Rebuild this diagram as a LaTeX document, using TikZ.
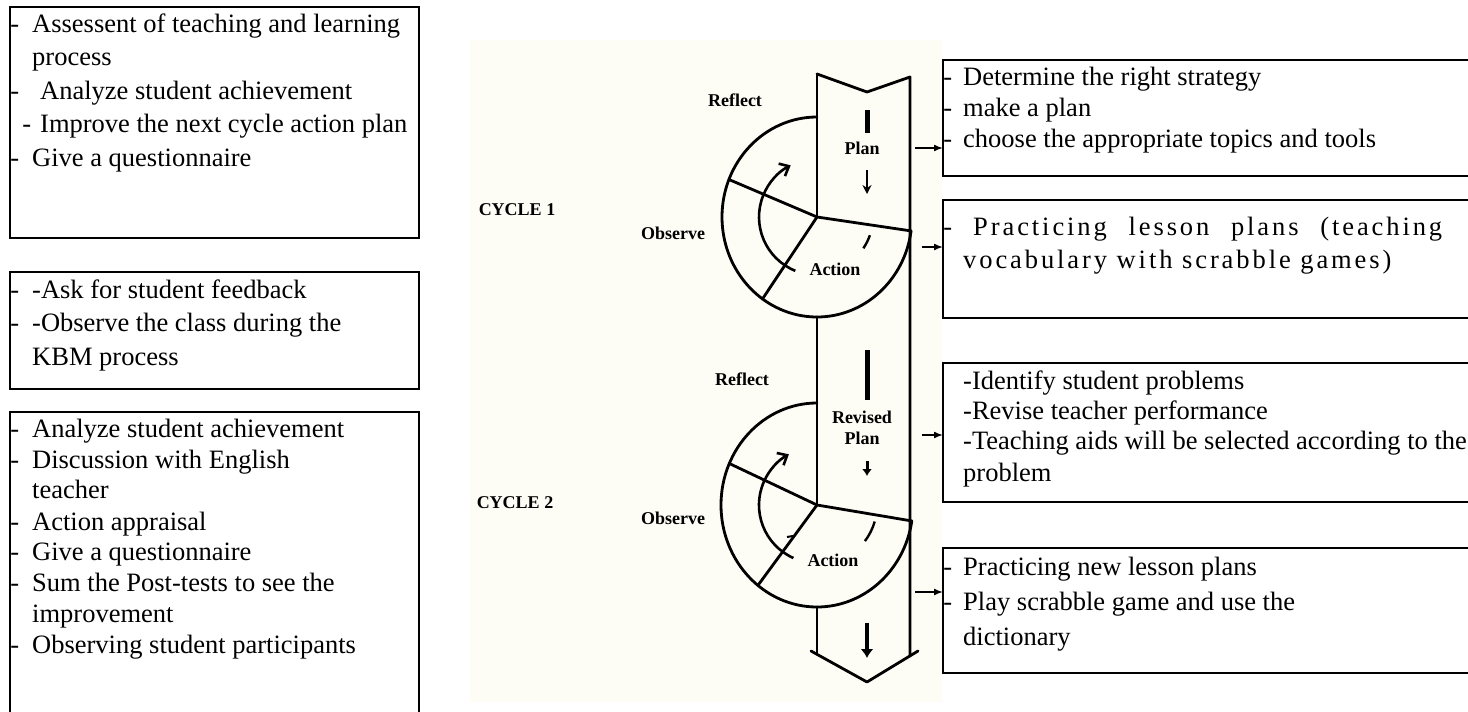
\documentclass[tikz,border=0pt]{standalone}
\usepackage{fontspec}
\setmainfont{Liberation Serif}
\newfontfamily\spacedfont[LetterSpace=11]{Liberation Serif}
\usetikzlibrary{arrows.meta}
\definecolor{cream}{RGB}{253,253,246}
\newcommand\hdash[1]{\llap{-\hspace{#1}}}
\tikzset{
  box/.style={draw=black, line width=1.8pt, anchor=north west, inner sep=0pt, outer sep=0pt},
  txt/.style={anchor=base west, inner sep=0pt, font=\fontsize{26.5}{31}\selectfont},
  lbl/.style={inner sep=0pt, font=\bfseries\fontsize{18}{21}\selectfont},
  dline/.style={line width=2.8pt, line cap=round, line join=round},
  conn/.style={line width=1.6pt, -{Latex[length=9pt,width=7pt]}},
  curv/.style={line width=2.6pt, -{Straight Barb[length=8pt,width=14pt,line width=2.6pt]}},
}
\begin{document}
\begin{tikzpicture}[x=1pt,y=-1pt]
\useasboundingbox (0,0) rectangle (1468,712);
\clip (0,0) rectangle (1468,712);
\fill[white] (0,0) rectangle (1468,712);
\fill[cream] (470,40) rectangle (942,702);

% ---------- left boxes ----------
\node[box, minimum width=409pt, minimum height=231pt] (box1) at (10,7) {};
\node[box, minimum width=409pt, minimum height=117pt] (box2) at (10,272) {};
\node[box, minimum width=409pt, minimum height=318pt] (box3) at (10,412) {};

\node[txt] (b1a) at (32,32) {\hdash{13pt}Assessent of teaching and learning};
\node[txt] (b1b) at (32,65.5) {process};
\node[txt] (b1c) at (40,99) {\hdash{21pt}Analyze student achievement};
\node[txt] (b1d) at (40,132.5) {\hdash{9pt}Improve the next cycle action plan};
\node[txt] (b1e) at (32,166) {\hdash{13pt}Give a questionnaire};

\node[txt] (b2a) at (32,298) {\hdash{13pt}-Ask for student feedback};
\node[txt] (b2b) at (32,331.5) {\hdash{13pt}-Observe the class during the};
\node[txt] (b2c) at (32,365) {KBM process};

\node[txt] (b3a) at (32,437) {\hdash{13pt}Analyze student achievement};
\node[txt] (b3b) at (32,468) {\hdash{13pt}Discussion with English};
\node[txt] (b3c) at (32,498) {teacher};
\node[txt] (b3d) at (32,530) {\hdash{13pt}Action appraisal};
\node[txt] (b3e) at (32,560) {\hdash{13pt}Give a questionnaire};
\node[txt] (b3f) at (32,591) {\hdash{13pt}Sum the Post-tests to see the};
\node[txt] (b3g) at (32,622) {improvement};
\node[txt] (b3h) at (32,653) {\hdash{13pt}Observing student participants};

% ---------- right boxes ----------
\node[box, minimum width=547pt, minimum height=116pt] (boxA) at (943,60) {};
\node[box, minimum width=547pt, minimum height=118pt] (boxB) at (943,200) {};
\node[box, minimum width=547pt, minimum height=139pt] (boxC) at (943,363) {};
\node[box, minimum width=547pt, minimum height=125pt] (boxD) at (943,548) {};

\node[txt] (tAa) at (963,85) {\hdash{11pt}Determine the right strategy};
\node[txt] (tAb) at (963,116) {\hdash{11pt}make a plan};
\node[txt] (tAc) at (963,147) {\hdash{11pt}choose the appropriate topics and tools};

\node[txt] (tBa) at (973,235) {\hdash{21pt}\makebox[469pt][s]{\spacedfont Practicing lesson plans (teaching}};
\node[txt] (tBb) at (963,268) {\spacedfont vocabulary with scrabble games)};

\node[txt] (tCa) at (963,389) {-Identify student problems};
\node[txt] (tCb) at (963,419) {-Revise teacher performance};
\node[txt] (tCc) at (963,449) {-Teaching aids will be selected according to the};
\node[txt] (tCd) at (963,481) {problem};

\node[txt] (tDa) at (963,575) {\hdash{11pt}Practicing new lesson plans};
\node[txt] (tDb) at (963,610) {\hdash{11pt}Play scrabble game and use the};
\node[txt] (tDc) at (963,645) {dictionary};

% ---------- central diagram ----------
\coordinate (c1) at (817,217);
\coordinate (c2) at (817,505);

% band
\draw[dline] (817,74) -- (867,92) -- (910,77) -- (910,656);
\draw[dline] (811,651) -- (867,682) -- (918,651);
\draw[dline] (817,74) -- (c1);
\draw[dline] (817,317) -- (c2);
\draw[dline] (817,607) -- (817,654);

% cycle 1 wheel
\draw[dline] (817,117) arc[start angle=-90, end angle=-352, x radius=95, y radius=100] coordinate (c1r);
\draw[dline] (c1) -- (728.9,179.5);
\draw[dline] (c1) -- (762.5,298.9);
\draw[dline] (c1) -- (c1r);
\draw[curv] (795.3,270.8) arc[start angle=-248, end angle=-117, radius=58];
\draw[line width=2.4pt] (869.9,235.2) arc[start angle=19, end angle=34, radius=56];

% cycle 2 wheel
\draw[dline] (817,403) arc[start angle=-90, end angle=-351, x radius=96, y radius=102] coordinate (c2r);
\draw[dline] (c2) -- (729.3,463.5);
\draw[dline] (c2) -- (757.9,585.4);
\draw[dline] (c2) -- (c2r);
\draw[curv] (793.4,558) arc[start angle=-246, end angle=-119, radius=58];
\draw[line width=2.4pt] (874.7,521.5) arc[start angle=16, end angle=37, radius=60];
\draw[line width=2pt] (787,537) -- (793,536);

% arrows inside band
\draw[line width=5pt] (867,110) -- (867,133);
\draw[line width=1.8pt, -{Stealth[length=9pt,width=9pt]}] (867,170) -- (867,194);
\draw[line width=5pt] (867,350) -- (867,400);
\draw[line width=3pt, -{Latex[length=7pt,width=10pt]}] (867,461) -- (867,476);
\draw[line width=4pt, -{Latex[length=9pt,width=13pt]}] (867,623) -- (867,658);

% labels
\node[lbl] (refl1) at (735,100) {Reflect};
\node[lbl] (obs1) at (673,233) {Observe};
\node[lbl] (act1) at (835,269) {Action};
\node[lbl] (plan1) at (862,148) {Plan};
\node[lbl] (cyc1) at (517,210) {CYCLE 1};
\node[lbl] (refl2) at (742,379) {Reflect};
\node[lbl] (obs2) at (673,518) {Observe};
\node[lbl] (act2) at (833,560) {Action};
\node[lbl, align=center] (rplan) at (862,428) {Revised\\Plan};
\node[lbl] (cyc2) at (515,503) {CYCLE 2};

% connectors to boxes
\coordinate (pa) at (915,148);
\coordinate (pb) at (922,247);
\coordinate (pc) at (922,435);
\coordinate (pd) at (915,592);
\draw[conn] (pa) -- (pa -| boxA.west);
\draw[conn] (pb) -- (pb -| boxB.west);
\draw[conn] (pc) -- (pc -| boxC.west);
\draw[conn] (pd) -- (pd -| boxD.west);
\end{tikzpicture}
\end{document}
